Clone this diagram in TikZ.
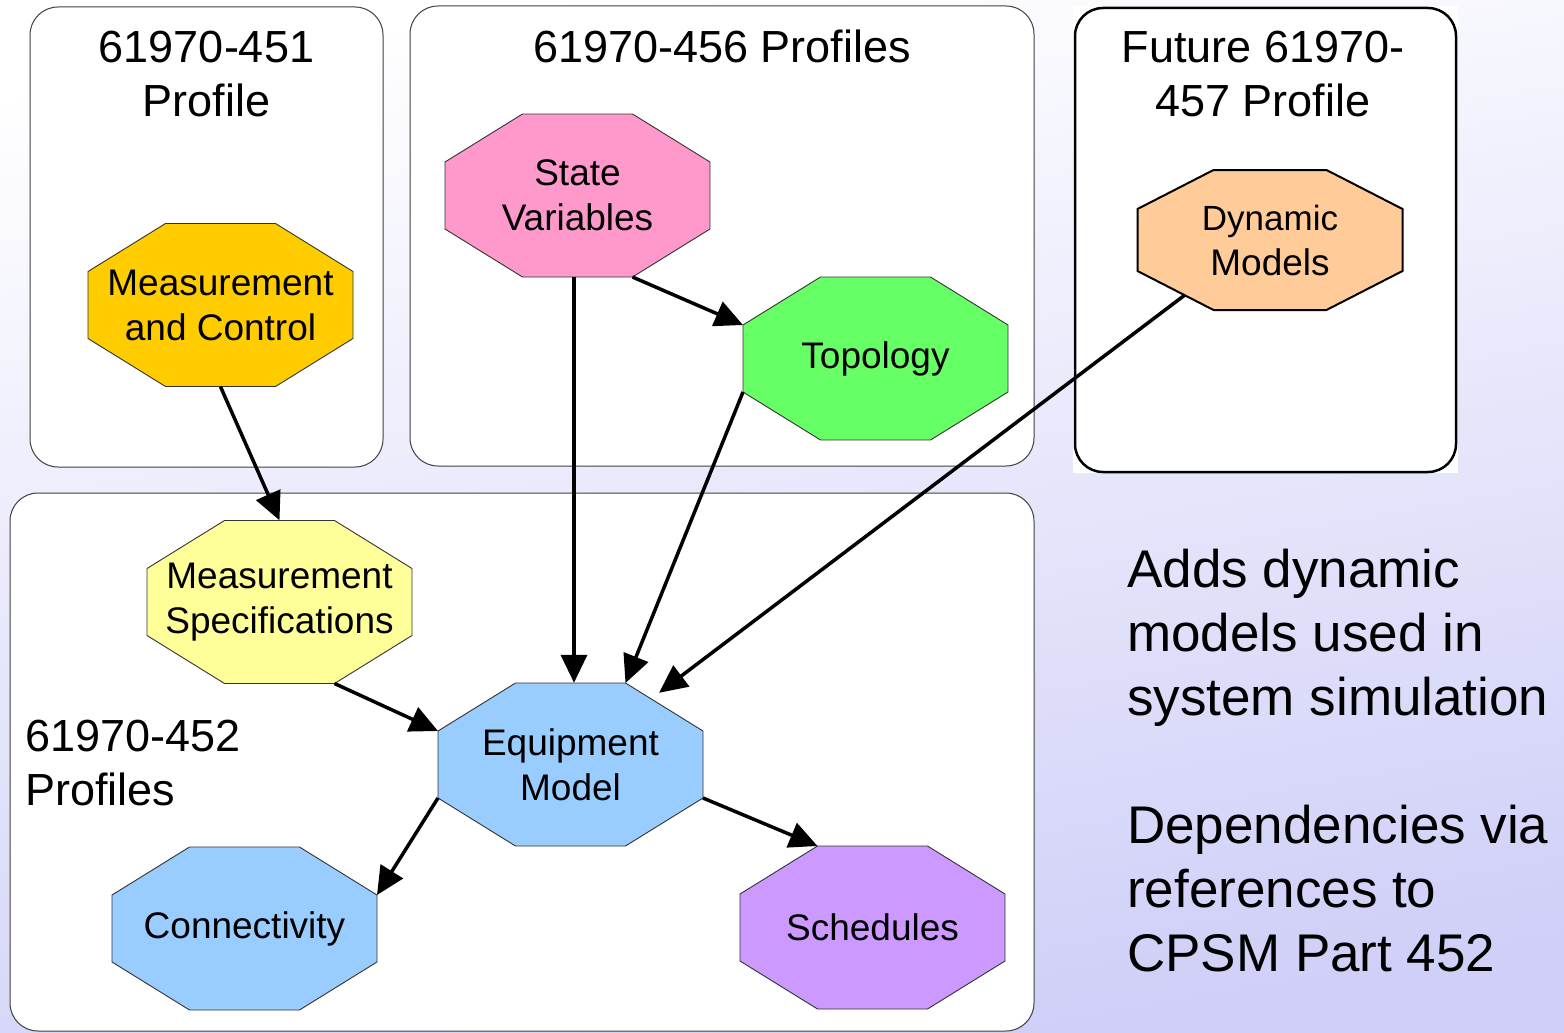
\documentclass[tikz,border=0pt]{standalone}
\usepackage{fontspec}
\setmainfont{Liberation Sans}
\usetikzlibrary{arrows.meta,calc}

\definecolor{bglav}{HTML}{CFCFF8}
\definecolor{mcfill}{HTML}{FFCC00}
\definecolor{svfill}{HTML}{FF99CC}
\definecolor{topofill}{HTML}{66FF66}
\definecolor{dynfill}{HTML}{FFCC99}
\definecolor{msfill}{HTML}{FFFF99}
\definecolor{eqfill}{HTML}{99CCFF}
\definecolor{schedfill}{HTML}{CC99FF}

% octagon: name, centre x, centre y, half width, half height, cut x, cut y, path style, text
\newcommand\octagonnode[9]{%
  \coordinate (#1-nw) at ({#2-#4+#6},{#3-#5});
  \coordinate (#1-ne) at ({#2+#4-#6},{#3-#5});
  \coordinate (#1-en) at ({#2+#4},{#3-#5+#7});
  \coordinate (#1-es) at ({#2+#4},{#3+#5-#7});
  \coordinate (#1-se) at ({#2+#4-#6},{#3+#5});
  \coordinate (#1-sw) at ({#2-#4+#6},{#3+#5});
  \coordinate (#1-ws) at ({#2-#4},{#3+#5-#7});
  \coordinate (#1-wn) at ({#2-#4},{#3-#5+#7});
  \path[#8] (#1-nw) -- (#1-ne) -- (#1-en) -- (#1-es) -- (#1-se) -- (#1-sw) -- (#1-ws) -- (#1-wn) -- cycle;
  \node[octtext, minimum width={2*#4}, minimum height={2*#5}] (#1) at (#2,#3) {#9};
}

\tikzset{
  groupbox/.style={draw=black!75, line width=1pt, fill=white, rounded corners=28pt},
  boxtitle/.style={font=\fontsize{45}{54}\selectfont, align=center, inner sep=0pt},
  octtext/.style={font=\fontsize{37}{45}\selectfont, align=center, inner sep=0pt},
  octline/.style={draw=black!80, line width=0.9pt},
  depends/.style={line width=3.5pt, -{Triangle[length=28pt,width=26pt]}},
  notetext/.style={font=\fontsize{53}{64}\selectfont, align=left, inner sep=0pt, anchor=north west},
}

\begin{document}
\begin{tikzpicture}[x=1pt,y=-1pt]
  \useasboundingbox (0,0) rectangle (1564,1033);
  % slide background
  \shade[top color=white, bottom color=bglav, shading angle=10] (0,0) rectangle (1564,1033);

  % profile groups
  \draw[groupbox] (30,7) rectangle (383,467);
  \draw[groupbox] (410,6) rectangle (1034,466);
  \fill[white] (1073,6) rectangle (1458,473);
  \draw[groupbox, draw=black, line width=2.5pt] (1075,8) rectangle (1456,472);
  \draw[groupbox] (10,493) rectangle (1034,1031);

  \node[boxtitle, anchor=north] (t451) at (206.5,31) {61970-451\\Profile};
  \node[boxtitle, anchor=north] (t456) at (722,30) {61970-456 Profiles};
  \node[boxtitle, anchor=north] (t457) at (1263,31) {Future 61970-\\457 Profile};
  \node[boxtitle, anchor=north west, align=left] (t452) at (25,720) {61970-452\\Profiles};

  % profile parts
  \octagonnode{mc}{220.5}{305}{132.5}{81.5}{77.5}{48}{octline, fill=mcfill}{Measurement\\and Control}
  \octagonnode{sv}{577.5}{195.5}{132.5}{81.5}{77.5}{48}{octline, fill=svfill}{State\\Variables}
  \octagonnode{topo}{875.5}{358.5}{132.5}{81.5}{77.5}{48}{octline, fill=topofill}{Topology}
  \octagonnode{dyn}{1270}{240}{132.5}{70}{76}{39}{draw=black, line width=2pt, fill=dynfill}{\fontsize{35}{42}\selectfont Dynamic\\Models}
  \octagonnode{ms}{279.5}{602}{132.5}{81.5}{77.5}{48}{octline, fill=msfill}{Measurement\\Specifications}
  \octagonnode{em}{570.5}{764.5}{132.5}{81.5}{77.5}{48}{octline, fill=eqfill}{Equipment\\Model}
  \octagonnode{conn}{244.5}{928.5}{132.5}{81.5}{77.5}{48}{octline, fill=eqfill}{Connectivity}
  \octagonnode{sched}{872.5}{927.5}{132.5}{81.5}{77.5}{48}{octline, fill=schedfill}{Schedules}

  % dependencies
  \draw[depends] (mc.south) -- (ms.north);
  \draw[depends] ($(sv.south)+(-3.5,0)$) -- ($(sv.south |- em.north)+(-3.5,0)$);
  \draw[depends] (sv-se) -- (topo-wn);
  \draw[depends] (topo-ws) -- (em-ne);
  \draw[depends, shorten >=10pt] ($(dyn-ws)!0.62!(dyn-sw)$) -- ($(em-ne)!0.33!(em-en)$);
  \draw[depends] (ms-se) -- (em-wn);
  \draw[depends] (em-ws) -- (conn-en);
  \draw[depends] (em-es) -- (sched-nw);

  % notes
  \node[notetext] (note1) at (1127,549) {Adds dynamic\\models used in\\system simulation};
  \node[notetext] (note2) at (1127,805) {Dependencies via\\references to\\CPSM Part 452};
\end{tikzpicture}
\end{document}
